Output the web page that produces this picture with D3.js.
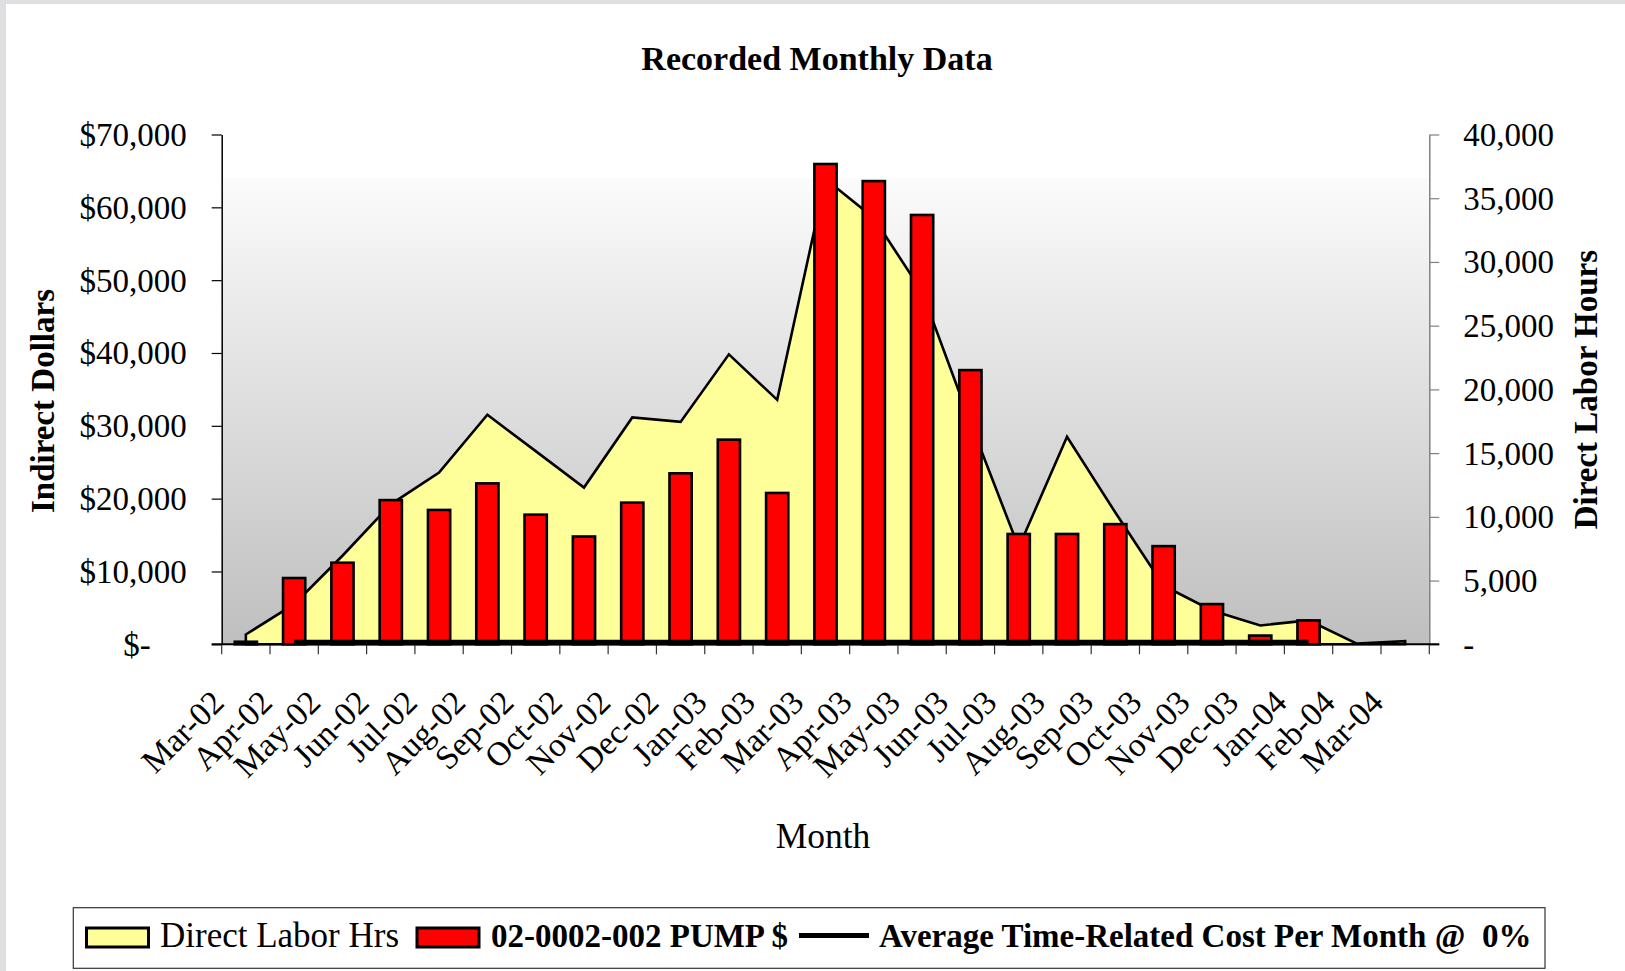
<!DOCTYPE html>
<html>
<head>
<meta charset="utf-8">
<script src="https://cdn.jsdelivr.net/npm/d3@7/dist/d3.min.js"></script>
<style>
    body { margin: 0; background: #fff; }
    svg { display: block; font-family: "Liberation Serif", "Times New Roman", serif; }
</style>
</head>
<body>
<svg id="chart" width="1625" height="971"></svg>
<script>
const months = ['Mar-02', 'Apr-02', 'May-02', 'Jun-02', 'Jul-02', 'Aug-02', 'Sep-02',
    'Oct-02', 'Nov-02', 'Dec-02', 'Jan-03', 'Feb-03', 'Mar-03', 'Apr-03', 'May-03',
    'Jun-03', 'Jul-03', 'Aug-03', 'Sep-03', 'Oct-03', 'Nov-03', 'Dec-03', 'Jan-04',
    'Feb-04', 'Mar-04'];
// Direct labor hours (right axis)
const laborHours = [770, 3150, 6950, 10980, 13470, 18010, 15160, 12300, 17800, 17450,
    22750, 19180, 36500, 33450, 27650, 17400, 7600, 16280, 10340, 4600, 2650, 1480,
    1880, 50, 240];
// 02-0002-002 PUMP $ (left axis)
const pumpDollars = [350, 9100, 11200, 19800, 18450, 22100, 17800, 14800, 19450, 23480,
    28100, 20780, 65950, 63600, 58950, 37650, 15150, 15150, 16500, 13480, 5520, 1200,
    3280, null, null];
// Average time-related cost per month @ 0%
const avgCost = [null, 300, 300, 300, 300, 300, 300, 300, 300, 300, 300, 300, 300, 300,
    300, 300, 300, 300, 300, 300, 300, 300, 300, null, null];
const dollarTicks = [0, 10000, 20000, 30000, 40000, 50000, 60000, 70000];
const hourTicks = [0, 5000, 10000, 15000, 20000, 25000, 30000, 35000, 40000];

const svg = d3.select('#chart');
const plot = { left: 221.7, right: 1429.3, top: 134.5, bottom: 644.3 };

// outer grey frame (top and left edge)
svg.append('rect').attr('width', 1625).attr('height', 4).attr('fill', '#dfdfe1');
svg.append('rect').attr('width', 6).attr('height', 971).attr('fill', '#dfdfe1');

const x = d3.scaleBand().domain(months).range([plot.left, plot.right]).padding(0);
const yL = d3.scaleLinear().domain([0, 70000]).range([plot.bottom, plot.top]);
const yR = d3.scaleLinear().domain([0, 40000]).range([plot.bottom, plot.top]);
const cx = (m) => x(m) + x.bandwidth() / 2;

// plot area gradient
const grad = svg.append('defs').append('linearGradient')
    .attr('id', 'bg').attr('x1', 0).attr('y1', 0).attr('x2', 0).attr('y2', 1);
grad.append('stop').attr('offset', 0).attr('stop-color', '#ffffff');
grad.append('stop').attr('offset', 0.085).attr('stop-color', '#ffffff');
grad.append('stop').attr('offset', 0.085).attr('stop-color', '#fbfbfb');
grad.append('stop').attr('offset', 1).attr('stop-color', '#bfbfbf');
svg.append('rect')
    .attr('x', plot.left).attr('y', plot.top)
    .attr('width', plot.right - plot.left).attr('height', plot.bottom - plot.top)
    .attr('fill', 'url(#bg)');

// labor hours area
const area = d3.area()
    .x((d, i) => cx(months[i]))
    .y0(yR(0))
    .y1((d) => yR(d));
svg.append('path')
    .datum(laborHours)
    .attr('d', area)
    .attr('fill', '#ffff99')
    .attr('stroke', '#000')
    .attr('stroke-width', 2.6);

// pump $ bars
const bw = x.bandwidth() * 0.46;
svg.append('g')
    .selectAll('rect')
    .data(months.map((m, i) => ({ m, v: pumpDollars[i] })).filter((d) => d.v != null))
    .join('rect')
    .attr('x', (d) => cx(d.m) - bw / 2)
    .attr('y', (d) => yL(d.v))
    .attr('width', bw)
    .attr('height', (d) => yL(0) - yL(d.v))
    .attr('fill', '#ff0000')
    .attr('stroke', '#000')
    .attr('stroke-width', 2.6);

// average cost line
const line = d3.line()
    .defined((d) => d != null)
    .x((d, i) => cx(months[i]))
    .y((d) => yL(d));
svg.append('path')
    .datum(avgCost)
    .attr('d', line)
    .attr('fill', 'none')
    .attr('stroke', '#000')
    .attr('stroke-width', 4.5);

// left axis
const leftAxis = svg.append('g')
    .attr('transform', `translate(${plot.left},0)`)
    .call(d3.axisLeft(yL).tickValues(dollarTicks).tickSize(10).tickSizeOuter(0).tickPadding(25)
        .tickFormat((v) => (v === 0 ? '$-' : '$' + d3.format(',')(v))));
leftAxis.attr('font-family', null).attr('font-size', 33);
leftAxis.select('.domain').attr('stroke', '#000').attr('stroke-width', 1.5);
leftAxis.selectAll('.tick line').attr('stroke', '#000').attr('stroke-width', 1.2);
leftAxis.selectAll('.tick text').attr('fill', '#000').attr('dy', '0.33em')
    .filter((d) => d === 0).attr('x', -71);

// right axis
const rightAxis = svg.append('g')
    .attr('transform', `translate(${plot.right},0)`)
    .call(d3.axisRight(yR).tickValues(hourTicks).tickSize(10).tickSizeOuter(0).tickPadding(24)
        .tickFormat((v) => (v === 0 ? '-' : d3.format(',')(v))));
rightAxis.attr('font-family', null).attr('font-size', 33);
rightAxis.select('.domain').attr('stroke', '#808080').attr('stroke-width', 1.5);
rightAxis.selectAll('.tick line').attr('stroke', '#808080').attr('stroke-width', 1.2);
rightAxis.selectAll('.tick text').attr('fill', '#000').attr('dy', '0.33em');

// category axis: ticks on band boundaries
const xAxis = svg.append('g');
xAxis.selectAll('line.tk')
    .data(d3.range(months.length + 1))
    .join('line')
    .attr('class', 'tk')
    .attr('x1', (i) => x.range()[0] + i * x.step())
    .attr('x2', (i) => x.range()[0] + i * x.step())
    .attr('y1', plot.bottom)
    .attr('y2', plot.bottom + 10)
    .attr('stroke', '#333')
    .attr('stroke-width', 1.2);
xAxis.append('line')
    .attr('x1', plot.left - 10).attr('x2', plot.right + 10)
    .attr('y1', plot.bottom).attr('y2', plot.bottom)
    .attr('stroke', '#000').attr('stroke-width', 2);
xAxis.selectAll('text')
    .data(months)
    .join('text')
    .attr('transform', (m) => `translate(${cx(m) - 20},${plot.bottom + 60}) rotate(-45)`)
    .attr('text-anchor', 'end')
    .attr('font-size', 33.5)
    .text((m) => m);

// titles
svg.append('text')
    .attr('x', 817).attr('y', 70)
    .attr('text-anchor', 'middle')
    .attr('font-size', 34).attr('font-weight', 'bold')
    .text('Recorded Monthly Data');
svg.append('text')
    .attr('transform', 'translate(53.5,401) rotate(-90)')
    .attr('text-anchor', 'middle')
    .attr('font-size', 33).attr('font-weight', 'bold')
    .text('Indirect Dollars');
svg.append('text')
    .attr('transform', 'translate(1596.7,389.6) rotate(-90)')
    .attr('text-anchor', 'middle')
    .attr('font-size', 33).attr('font-weight', 'bold')
    .text('Direct Labor Hours');
svg.append('text')
    .attr('x', 823).attr('y', 848)
    .attr('text-anchor', 'middle')
    .attr('font-size', 35.5)
    .text('Month');

// legend
const legend = svg.append('g');
legend.append('rect')
    .attr('x', 73.3).attr('y', 907.7).attr('width', 1471.7).attr('height', 60.6)
    .attr('fill', '#fff').attr('stroke', '#333').attr('stroke-width', 1.2);
legend.append('rect')
    .attr('x', 86.5).attr('y', 928).attr('width', 62).attr('height', 19)
    .attr('fill', '#ffff99').attr('stroke', '#000').attr('stroke-width', 3);
legend.append('text')
    .attr('x', 160).attr('y', 947).attr('font-size', 35)
    .text('Direct Labor Hrs');
legend.append('rect')
    .attr('x', 417).attr('y', 928).attr('width', 62).attr('height', 19)
    .attr('fill', '#ff0000').attr('stroke', '#000').attr('stroke-width', 3);
legend.append('text')
    .attr('x', 491).attr('y', 947).attr('font-size', 33).attr('font-weight', 'bold')
    .text('02-0002-002 PUMP $');
legend.append('line')
    .attr('x1', 799).attr('x2', 869).attr('y1', 935.5).attr('y2', 935.5)
    .attr('stroke', '#000').attr('stroke-width', 5);
legend.append('text')
    .attr('x', 879).attr('y', 947).attr('font-size', 33).attr('font-weight', 'bold')
    .style('white-space', 'pre')
    .text('Average Time-Related Cost Per Month @  0%');
</script>
</body>
</html>
